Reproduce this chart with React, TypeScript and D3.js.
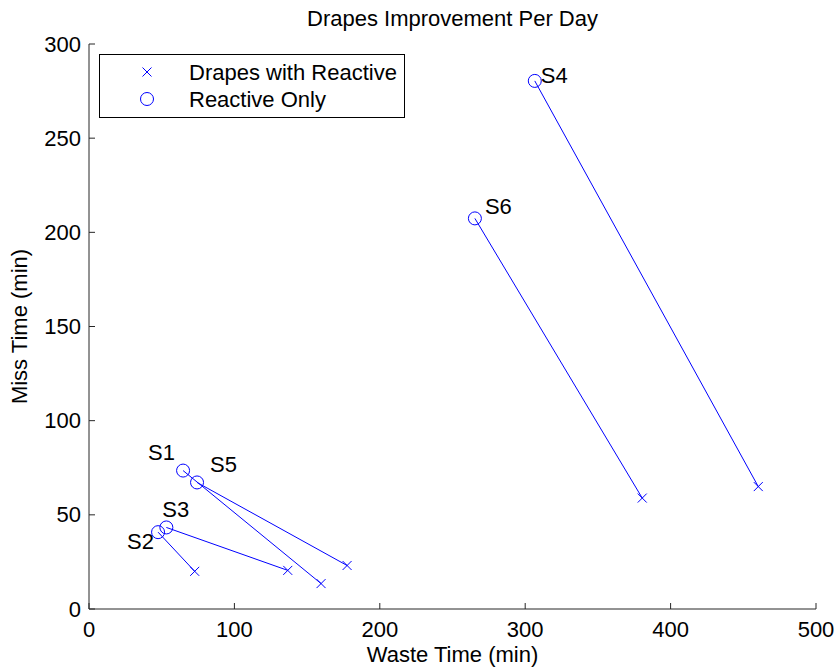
import React from "react";
import * as d3 from "d3";

// Subjects and their (waste, miss) times in minutes
const subjects = ["S1", "S2", "S3", "S4", "S5", "S6"];
const reactiveWaste = [64.7, 47.5, 53.2, 306.6, 74.3, 265.4];
const reactiveMiss = [73.5, 40.8, 43.3, 280.4, 67.2, 207.4];
const drapesWaste = [159.6, 72.7, 136.7, 460.3, 177.5, 380.5];
const drapesMiss = [13.5, 20.0, 20.5, 65.0, 23.1, 58.9];

const xTicks = [0, 100, 200, 300, 400, 500];
const yTicks = [0, 50, 100, 150, 200, 250, 300];
const legendLabels = ["Drapes with Reactive", "Reactive Only"];

// label placement relative to the "Reactive Only" marker (px)
const labelOffsets: [number, number][] = [
  [-35, -11],
  [-31, 17],
  [-4, -10],
  [6, 2],
  [13, -10],
  [10, -4],
];

const W = 836;
const H = 668;
const FONT = "'Liberation Sans', Arial, Helvetica, sans-serif";
const FS = 22;
const BLUE = "#0000ff";
const AXIS = "#262626";

export default function App() {
  const x = d3.scaleLinear().domain([0, 500]).range([89, 816]);
  const y = d3.scaleLinear().domain([0, 300]).range([609, 44]);
  const [x0, x1] = x.range();
  const [y0, y1] = y.range();
  const tickLen = 6;
  const cr = 6.5;
  const xs = 4.5;

  const cross = (cx: number, cy: number, s: number, key?: string) => (
    <path
      key={key}
      d={`M${cx - s},${cy - s}L${cx + s},${cy + s}M${cx - s},${cy + s}L${cx + s},${cy - s}`}
      stroke={BLUE}
      strokeWidth={1}
      fill="none"
    />
  );

  return (
    <svg
      width={W}
      height={H}
      style={{ position: "absolute", left: 0, top: 0, background: "#fff" }}
      fontFamily={FONT}
    >
      <rect x={0} y={0} width={W} height={H} fill="#fff" />

      {/* axes */}
      <line x1={x0} y1={y0} x2={x1} y2={y0} stroke={AXIS} strokeWidth={1} />
      <line x1={x0} y1={y0} x2={x0} y2={y1} stroke={AXIS} strokeWidth={1} />
      {xTicks.map((t) => (
        <g key={"xt" + t}>
          <line x1={x(t)} x2={x(t)} y1={y0} y2={y0 - tickLen} stroke={AXIS} />
          <text x={x(t)} y={637} textAnchor="middle" fontSize={FS} fill="#000">
            {t}
          </text>
        </g>
      ))}
      {yTicks.map((t) => (
        <g key={"yt" + t}>
          <line x1={x0} x2={x0 + tickLen} y1={y(t)} y2={y(t)} stroke={AXIS} />
          <text x={81} y={y(t) + 7.5} textAnchor="end" fontSize={FS} fill="#000">
            {t}
          </text>
        </g>
      ))}

      {/* titles */}
      <text x={(x0 + x1) / 2} y={26} textAnchor="middle" fontSize={FS} fill="#000">
        Drapes Improvement Per Day
      </text>
      <text x={(x0 + x1) / 2} y={662} textAnchor="middle" fontSize={FS} fill="#000">
        Waste Time (min)
      </text>
      <text
        transform={`translate(27,${(y0 + y1) / 2}) rotate(-90)`}
        textAnchor="middle"
        fontSize={FS}
        fill="#000"
      >
        Miss Time (min)
      </text>

      {/* connecting lines */}
      {subjects.map((s, i) => (
        <line
          key={"l" + s}
          x1={x(reactiveWaste[i])}
          y1={y(reactiveMiss[i])}
          x2={x(drapesWaste[i])}
          y2={y(drapesMiss[i])}
          stroke={BLUE}
          strokeWidth={1}
        />
      ))}
      {subjects.map((s, i) => cross(x(drapesWaste[i]), y(drapesMiss[i]), xs, "x" + s))}
      {subjects.map((s, i) => (
        <circle
          key={"c" + s}
          cx={x(reactiveWaste[i])}
          cy={y(reactiveMiss[i])}
          r={cr}
          fill="none"
          stroke={BLUE}
          strokeWidth={1}
        />
      ))}
      {subjects.map((s, i) => (
        <text
          key={"t" + s}
          x={x(reactiveWaste[i]) + labelOffsets[i][0]}
          y={y(reactiveMiss[i]) + labelOffsets[i][1]}
          fontSize={FS}
          fill="#000"
        >
          {s}
        </text>
      ))}

      {/* legend */}
      <rect x={99.5} y={54.5} width={305} height={63} fill="#fff" stroke="#000" strokeWidth={1} />
      {cross(147, 72, 4.5, "lgx")}
      <text x={189} y={72 + 7.5} fontSize={FS} fill="#000">
        {legendLabels[0]}
      </text>
      <circle cx={147} cy={99} r={cr} fill="none" stroke={BLUE} strokeWidth={1} />
      <text x={189} y={99 + 7.5} fontSize={FS} fill="#000">
        {legendLabels[1]}
      </text>
    </svg>
  );
}
